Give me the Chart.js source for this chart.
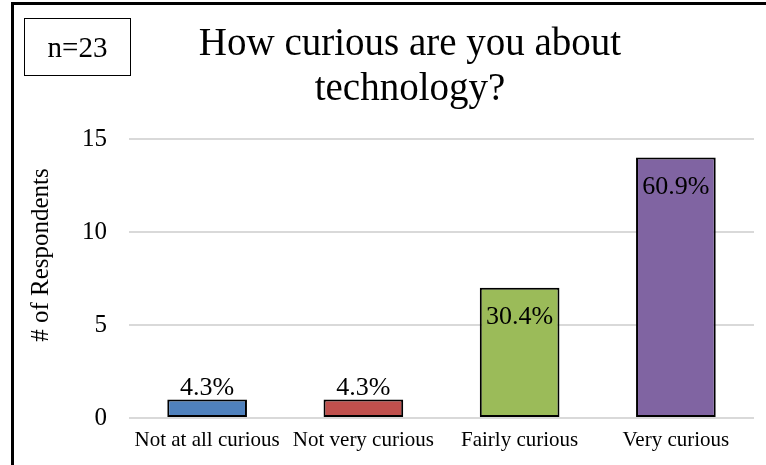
<!DOCTYPE html>
<html>
<head>
<meta charset="utf-8">
<script src="https://cdn.jsdelivr.net/npm/chart.js@4/dist/chart.umd.min.js"></script>
<style>
  html, body { margin: 0; padding: 0; background: #fff; }
  #wrap { position: relative; width: 766px; height: 465px; overflow: hidden; background: #fff; }
  #c { position: absolute; left: 0; top: 0; }
  #frame { position: absolute; left: 11px; top: 2px; width: 900px; height: 600px;
           border-left: 3px solid #000; border-top: 3px solid #000; pointer-events: none; }
  #nbox { position: absolute; left: 24px; top: 18px; width: 105px; height: 56px;
          border: 1.5px solid #000; font-family: "Liberation Serif", serif; font-size: 29px;
          line-height: 56px; text-align: center; color: #000; background: #fff; }
  #title { position: absolute; left: 110px; top: 19px; width: 600px; text-align: center;
           font-family: "Liberation Serif", serif; font-size: 39px; line-height: 45px; color: #000; }
</style>
</head>
<body>
<div id="wrap">
  <canvas id="c" width="766" height="465"></canvas>
  <div id="frame"></div>
  <div id="nbox">n=23</div>
  <div id="title">How curious are you about<br>technology?</div>
</div>
<script>
const categories = ['Not at all curious', 'Not very curious', 'Fairly curious', 'Very curious'];
const respondents = [1, 1, 7, 14];
const percentLabels = ['4.3%', '4.3%', '30.4%', '60.9%'];
const yTickValues = [0, 5, 10, 15];
const barColors = ['#4F81BD', '#C0504D', '#9BBB59', '#8064A2'];
const yAxisTitle = '# of Respondents';

const FONT = '"Liberation Serif", serif';

const labelPlugin = {
  id: 'barLabels',
  afterDatasetsDraw(chart) {
    const ctx = chart.ctx;
    const meta = chart.getDatasetMeta(0);
    ctx.save();
    ctx.font = '26px ' + FONT;
    ctx.fillStyle = '#000';
    ctx.textAlign = 'center';
    ctx.textBaseline = 'alphabetic';
    meta.data.forEach((bar, i) => {
      const h = bar.base - bar.y;
      if (h > 50) {
        ctx.fillText(percentLabels[i], bar.x, bar.y + 36);
      } else {
        ctx.fillText(percentLabels[i], bar.x, bar.y - 4.5);
      }
    });
    ctx.restore();
  },
  afterDraw(chart) {
    const ctx = chart.ctx;
    ctx.save();
    ctx.font = '25px ' + FONT;
    ctx.fillStyle = '#000';
    ctx.textAlign = 'center';
    ctx.textBaseline = 'middle';
    ctx.translate(41, 255);
    ctx.rotate(-Math.PI / 2);
    ctx.fillText(yAxisTitle, 0, 0);
    ctx.restore();
  }
};

new Chart(document.getElementById('c'), {
  type: 'bar',
  data: {
    labels: categories,
    datasets: [{
      data: respondents,
      backgroundColor: barColors,
      borderColor: '#000',
      borderWidth: 2,
      borderSkipped: false,
      categoryPercentage: 1,
      barPercentage: 0.51
    }]
  },
  options: {
    responsive: false,
    animation: false,
    layout: { padding: { top: 139, right: 12, left: 0, bottom: 0 } },
    plugins: {
      legend: { display: false },
      tooltip: { enabled: false },
      title: { display: false }
    },
    scales: {
      x: {
        grid: { display: false, drawTicks: false },
        border: { display: false },
        ticks: {
          color: '#000',
          font: { family: FONT, size: 21 },
          padding: 10,
          maxRotation: 0,
          autoSkip: false
        },
        afterFit(scale) { scale.height = 47; }
      },
      y: {
        min: 0,
        max: 15,
        grid: { color: '#d9d9d9', lineWidth: 2, drawTicks: false },
        border: { display: false },
        ticks: {
          color: '#000',
          font: { family: FONT, size: 25 },
          padding: 22
        },
        afterBuildTicks(scale) { scale.ticks = yTickValues.map(v => ({ value: v })); },
        afterFit(scale) { scale.width = 129; }
      }
    }
  },
  plugins: [labelPlugin]
});
</script>
</body>
</html>
